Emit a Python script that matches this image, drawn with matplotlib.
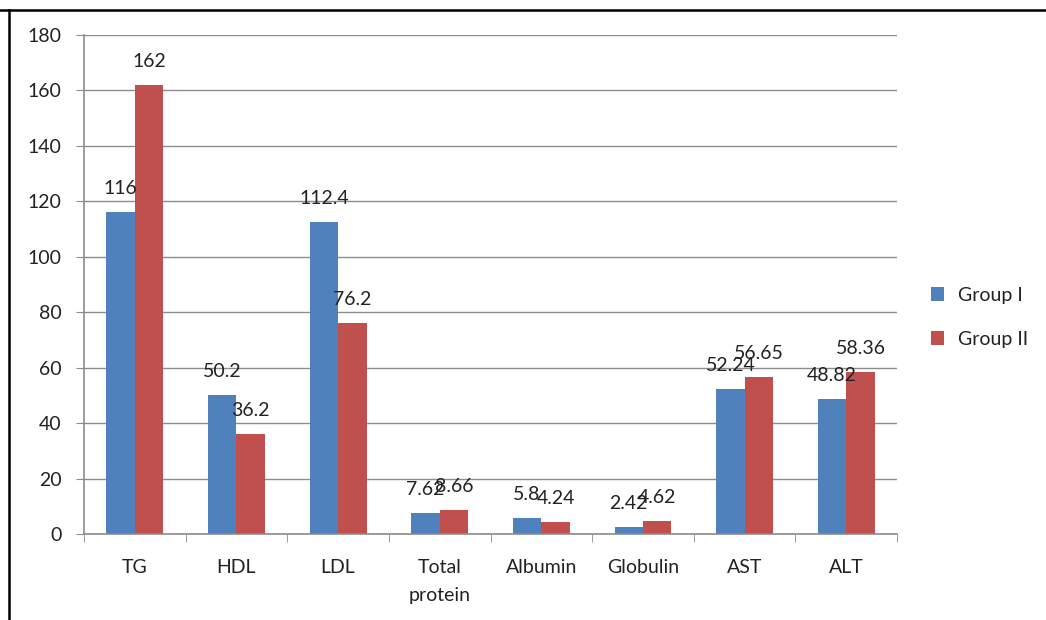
import matplotlib.pyplot as plt
from matplotlib.lines import Line2D
import numpy as np

categories = ['TG', 'HDL', 'LDL', 'Total\nprotein', 'Albumin', 'Globulin', 'AST', 'ALT']
group1 = [116, 50.2, 112.4, 7.62, 5.8, 2.42, 52.24, 48.82]
group2 = [162, 36.2, 76.2, 8.66, 4.24, 4.62, 56.65, 58.36]
label1 = ['116', '50.2', '112.4', '7.62', '5.8', '2.42', '52.24', '48.82']
label2 = ['162', '36.2', '76.2', '8.66', '4.24', '4.62', '56.65', '58.36']
yticks = [0, 20, 40, 60, 80, 100, 120, 140, 160, 180]

plt.rcParams['font.family'] = ['Lato', 'DejaVu Sans']

blue = '#4F81BD'
red = '#C0504D'
grey = '#8C8C8C'
fs = 14

fig = plt.figure(figsize=(10.46, 6.2), dpi=100)
ax = fig.add_axes([0.0803, 0.1387, 0.7773, 0.8048])

x = np.arange(len(categories))
w = 0.28
b1 = ax.bar(x - w / 2, group1, w, color=blue, label='Group I')
b2 = ax.bar(x + w / 2, group2, w, color=red, label='Group II')

# value labels above each bar
for bars, labels in ((b1, label1), (b2, label2)):
    for rect, txt in zip(bars, labels):
        ax.annotate(txt, (rect.get_x() + rect.get_width() / 2, rect.get_height()),
                    xytext=(0, 17), textcoords='offset points',
                    ha='center', va='center', fontsize=fs, color='#222222')

ax.set_xlim(-0.5, len(categories) - 0.5)
ax.set_ylim(0, 180)
ax.set_yticks(yticks)
ax.yaxis.grid(True, color=grey, linewidth=1)
ax.set_axisbelow(True)

ax.set_xticks(x)
ax.set_xticklabels(categories, fontsize=fs, color='#222222', linespacing=1.75)
ax.set_xticks(np.arange(len(categories) + 1) - 0.5, minor=True)
ax.tick_params(axis='x', which='major', length=0, pad=18)
ax.tick_params(axis='x', which='minor', length=6, color=grey, direction='out')
ax.tick_params(axis='y', length=6, color=grey, labelsize=fs, labelcolor='#222222', pad=10)

for side in ('top', 'right'):
    ax.spines[side].set_visible(False)
for side in ('left', 'bottom'):
    ax.spines[side].set_color(grey)
    ax.spines[side].set_linewidth(1.2)

ax.legend(loc='center left', bbox_to_anchor=(1.02, 0.434), frameon=False,
          fontsize=fs, handlelength=0.7, handleheight=0.7,
          labelspacing=1.4, handletextpad=0.7, labelcolor='#222222')

# frame lines along the top and left edges
fig.add_artist(Line2D([0, 1], [1 - 10 / 620] * 2, color='black', linewidth=1.8,
                      transform=fig.transFigure))
fig.add_artist(Line2D([9 / 1046] * 2, [0, 1 - 10 / 620], color='black', linewidth=1.8,
                      transform=fig.transFigure))

fig.savefig('out.png', dpi=100)
